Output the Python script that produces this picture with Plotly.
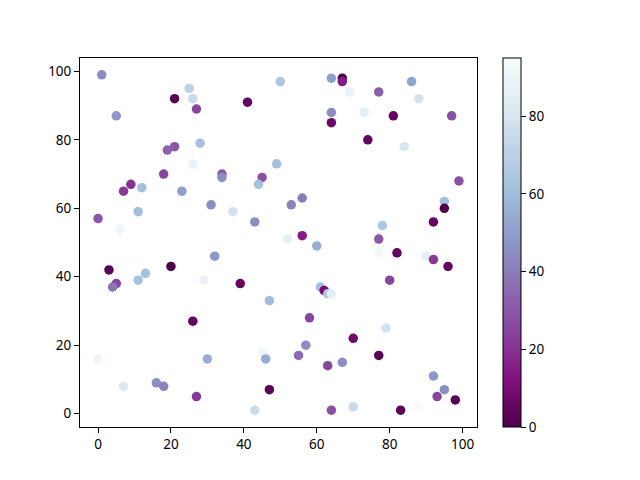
import plotly.graph_objects as go

# scatter points: x, y and colour value
x_vals = [1, 25, 21, 26, 41, 27, 5, 50, 28, 21,
          19, 26, 49, 18, 34, 34, 45, 44, 9, 7,
          12, 23, 31, 37, 43, 11, 0, 6,
          64, 67, 67, 69, 77, 86, 88, 64, 64, 73,
          81, 97, 74, 84, 99, 95, 95, 92, 53, 56,
          78, 52, 56, 60, 77,
          3, 5, 4, 13, 11, 20, 32, 29, 39, 47,
          26, 0, 30, 45, 46, 7, 16, 18, 27, 47, 43,
          77, 82, 90, 92, 96, 80, 61, 62, 63, 64,
          58, 79, 70, 57, 55, 77, 63, 67, 92, 95,
          93, 98, 64, 70, 83, 88]
y_vals = [99, 95, 92, 92, 91, 89, 87, 97, 79, 78,
          77, 73, 73, 70, 70, 69, 69, 67, 67, 65,
          66, 65, 61, 59, 56, 59, 57, 54,
          98, 98, 97, 94, 94, 97, 92, 88, 85, 88,
          87, 87, 80, 78, 68, 62, 60, 56, 61, 63,
          55, 51, 52, 49, 51,
          42, 38, 37, 41, 39, 43, 46, 39, 38, 33,
          27, 16, 16, 18, 16, 8, 9, 8, 5, 7, 1,
          47, 47, 46, 45, 43, 39, 37, 36, 35, 35,
          28, 25, 22, 20, 17, 17, 14, 15, 11, 7,
          5, 4, 1, 2, 1, 2]
c_vals = [45, 70, 2, 75, 5, 25, 48, 65, 62, 30,
          33, 88, 62, 25, 30, 45, 28, 62, 20, 22,
          62, 50, 45, 78, 45, 60, 30, 90,
          50, 0, 15, 88, 32, 52, 78, 45, 7, 85,
          5, 28, 5, 80, 28, 62, 0, 5, 42, 40,
          65, 85, 15, 55, 30,
          3, 25, 38, 62, 62, 0, 48, 88, 5, 60,
          5, 90, 55, 92, 55, 82, 45, 42, 22, 3, 75,
          92, 5, 85, 22, 5, 25, 62, 10, 65, 85,
          25, 78, 8, 45, 35, 3, 25, 45, 48, 45,
          25, 3, 28, 75, 3, 95]

font = dict(family="Noto Sans, DejaVu Sans, sans-serif", size=13.5, color="black")

fig = go.Figure()
fig.add_trace(go.Scatter(
    x=x_vals, y=y_vals, mode="markers",
    marker=dict(
        size=9.5, color=c_vals, colorscale="BuPu_r", cmin=0, cmax=95,
        line=dict(width=0),
        colorbar=dict(
            x=1.0655, xanchor="left", y=0.5, yanchor="middle",
            len=1, lenmode="fraction", thickness=18, xpad=0, ypad=0,
            outlinecolor="black", outlinewidth=1,
            ticks="outside", ticklen=5, tickwidth=1, tickcolor="black",
            tickvals=[0, 20, 40, 60, 80], tickfont=font,
        ),
    ),
    showlegend=False,
))

axis_common = dict(
    showgrid=False, zeroline=False, showline=True, mirror=True,
    linecolor="black", linewidth=1, ticks="outside", ticklen=5,
    tickwidth=1, tickcolor="black", tickfont=font, automargin=False,
)
fig.update_xaxes(range=[-4.95, 103.95], tickvals=[0, 20, 40, 60, 80, 100], **axis_common)
fig.update_yaxes(range=[-3.9, 103.9], tickvals=[0, 20, 40, 60, 80, 100], **axis_common)

# page body adds an 8px offset, so margins are shifted to compensate
fig.update_layout(
    width=640, height=480,
    margin=dict(l=72, r=171, t=50, b=61),
    paper_bgcolor="white", plot_bgcolor="white",
    font=font,
)

fig.write_html("out.html")
